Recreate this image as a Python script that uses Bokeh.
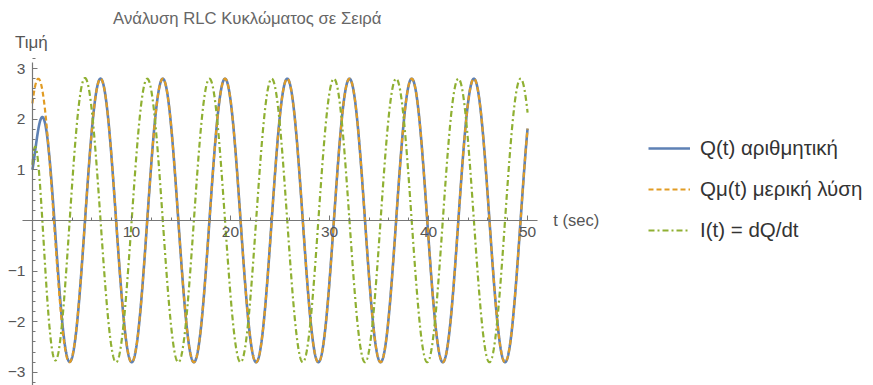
import numpy as np

from bokeh.embed import file_html
from bokeh.models import (ColumnDataSource, CustomJSTickFormatter, FixedTicker,
                          Label, Legend, LegendItem, LinearAxis, Range1d)
from bokeh.plotting import figure
from bokeh.resources import INLINE

# ---- circuit response parameters -------------------------------------------
t_start, t_end, t_step = 0.0, 50.0, 0.02   # simulated time span (s)

drive_omega = 1.0      # angular frequency of the source (rad/s)
charge_amp = 2.8       # steady-state charge amplitude
phase_lag = 0.6        # lag of the charge behind the source (rad)

decay_rate = 1.0       # damping rate of the transient (1/s)
damped_omega = 1.414   # ringing frequency of the transient (rad/s)

q_initial = 1.0        # Q(0)
i_initial = 1.1        # I(0) = Q'(0)

# ---- axes and labels --------------------------------------------------------
x_ticks = [10, 20, 30, 40, 50]
y_ticks = [-3, -2, -1, 1, 2, 3]
x_axis_span = (-1, 51)
y_axis_span = (-3.26, 3.12)
series_names = ["Q(t) αριθμητική", "Qμ(t) μερική λύση", "I(t) = dQ/dt"]
title_text = "Ανάλυση RLC Κυκλώματος σε Σειρά"
y_label_text = "Τιμή"
x_label_text = "t (sec)"

# ---- solution: particular part + decaying homogeneous part ---------------
t = np.arange(t_start, t_end + t_step / 2, t_step)
arg = drive_omega * t - phase_lag
q_part = charge_amp * np.cos(arg)
i_part = -charge_amp * drive_omega * np.sin(arg)

c1 = q_initial - q_part[0]
c2 = (i_initial - i_part[0] + decay_rate * c1) / damped_omega
env = np.exp(-decay_rate * t)
cw, sw = np.cos(damped_omega * t), np.sin(damped_omega * t)
q_hom = env * (c1 * cw + c2 * sw)
i_hom = env * ((-decay_rate * c1 + damped_omega * c2) * cw
               + (-decay_rate * c2 - damped_omega * c1) * sw)

src = ColumnDataSource(dict(t=t, q=q_part + q_hom, qp=q_part, i=i_part + i_hom))

# ---- figure -----------------------------------------------------------------
FONT = "Liberation Sans"
AXIS_COLOR = "#777777"
TEXT_COLOR = "#555555"

# the frame covers the whole canvas; axes are drawn through the origin
p = figure(width=873, height=385,
           x_range=Range1d(-3.22, 84.93), y_range=Range1d(-3.26, 4.345),
           x_axis_location=None, y_axis_location=None,
           output_backend="svg", toolbar_location=None,
           min_border_left=0, min_border_right=0,
           min_border_top=0, min_border_bottom=0)
p.grid.grid_line_color = None
p.outline_line_color = None
p.background_fill_color = "white"
p.border_fill_color = "white"

minus_fmt = CustomJSTickFormatter(
    code="return tick < 0 ? '\u2212' + Math.abs(tick) : String(tick);")


def style_axis(ax):
    ax.axis_line_color = AXIS_COLOR
    ax.axis_line_width = 1.2
    ax.major_tick_line_color = AXIS_COLOR
    ax.minor_tick_line_color = AXIS_COLOR
    ax.major_tick_in = 5
    ax.major_tick_out = 0
    ax.minor_tick_in = 3
    ax.minor_tick_out = 0
    ax.major_label_text_font = FONT
    ax.major_label_text_font_size = "15.5px"
    ax.major_label_text_color = TEXT_COLOR
    ax.major_label_standoff = 7
    ax.formatter = minus_fmt


x_minor = [float(v) for v in np.arange(2, 51, 2)]
y_minor = [round(float(v), 1) for v in np.arange(-3.2, 3.21, 0.2)]

xaxis = LinearAxis(fixed_location=0, bounds=x_axis_span,
                   ticker=FixedTicker(ticks=x_ticks, minor_ticks=x_minor))
style_axis(xaxis)
p.add_layout(xaxis, "below")

yaxis = LinearAxis(fixed_location=0, bounds=y_axis_span,
                   ticker=FixedTicker(ticks=y_ticks, minor_ticks=y_minor))
style_axis(yaxis)
p.add_layout(yaxis, "left")

# ---- curves -----------------------------------------------------------------
r_q = p.line("t", "q", source=src, line_color="#5E81B5", line_width=2.6)
r_qp = p.line("t", "qp", source=src, line_color="#E19C24", line_width=2.2,
              line_dash="5 3")
r_i = p.line("t", "i", source=src, line_color="#8FB032", line_width=2.2,
             line_dash="6 3 2 3")

# ---- texts ------------------------------------------------------------------
p.add_layout(Label(x=21.7, y=3.99, text=title_text, text_font=FONT,
                   text_font_size="16.7px", text_color="#666666",
                   text_align="center", text_baseline="middle"))
p.add_layout(Label(x=-0.1, y=3.52, text=y_label_text, text_font=FONT,
                   text_font_size="17px", text_color=TEXT_COLOR,
                   text_align="center", text_baseline="middle"))
p.add_layout(Label(x=52.6, y=0.0, text=x_label_text, text_font=FONT,
                   text_font_size="16.5px", text_color=TEXT_COLOR,
                   text_align="left", text_baseline="middle"))

legend = Legend(items=[LegendItem(label=series_names[0], renderers=[r_q]),
                       LegendItem(label=series_names[1], renderers=[r_qp]),
                       LegendItem(label=series_names[2], renderers=[r_i])],
                location=(648, 143), orientation="vertical",
                border_line_color=None, background_fill_alpha=0,
                padding=0, margin=0, spacing=17,
                glyph_width=42, glyph_height=20, label_height=20,
                label_standoff=10, label_text_font=FONT,
                label_text_font_size="20.5px", label_text_color="#333333")
p.add_layout(legend)

open("out.html", "w").write(file_html(p, INLINE))
